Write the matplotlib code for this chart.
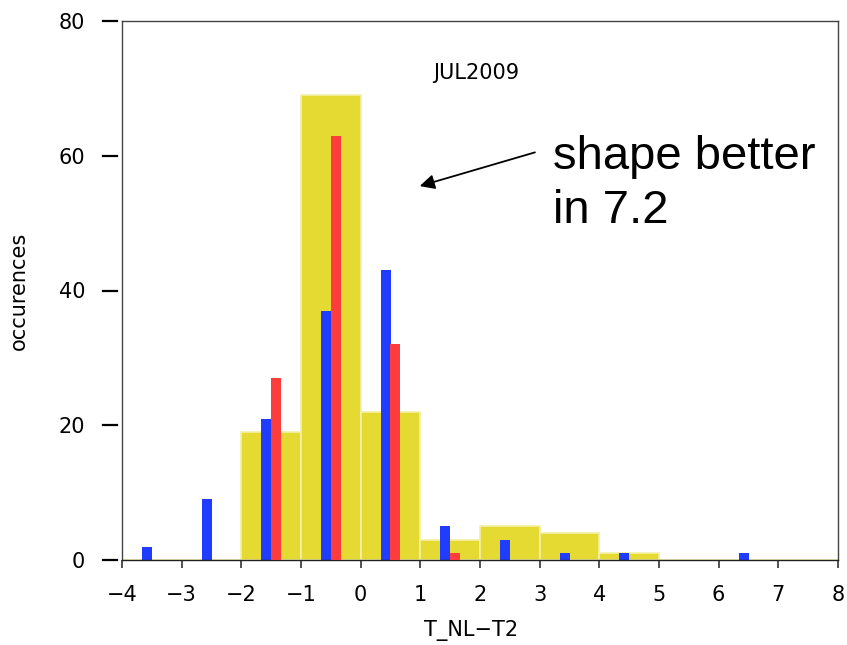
import matplotlib
matplotlib.use("Agg")
import matplotlib.pyplot as plt
import matplotlib.transforms as mtransforms
import numpy as np

# ---- data ----
bin_left = np.arange(-4, 8)                      # bins of width 1 from -4 to 8
yellow_counts = [0, 0, 19, 69, 22, 3, 5, 4, 1, 0, 0, 0]
blue_counts   = [2, 9, 21, 37, 43, 5, 3, 1, 1, 0, 1, 0]
red_counts    = [0, 0, 27, 63, 32, 1, 0, 0, 0, 0, 0, 0]
xticks = list(range(-4, 9))
yticks = [0, 20, 40, 60, 80]
title = "JUL2009"
xlabel = "T_NL\u2212T2"
ylabel = "occurences"
note = "shape better\nin 7.2"

W, H = 847, 645
fig = plt.figure(figsize=(W / 100, H / 100), dpi=100)
ax = fig.add_axes([122 / W, 1 - 560 / H, (838 - 122) / W, (560 - 21) / H])

yellow = "#e4da32"
blue = "#1f3cff"
red = "#fd3c3c"

ax.bar(bin_left + 0.5, yellow_counts, width=1.0, color=yellow,
       edgecolor="#f4f0a8", linewidth=1.2, zorder=1)
ax.bar(bin_left + 0.42, blue_counts, width=0.17, color=blue, zorder=2)
ax.bar(bin_left + 0.58, red_counts, width=0.17, color=red, zorder=3)

ax.set_xlim(-4, 8)
ax.set_ylim(0, 80)

for s in ax.spines.values():
    s.set_color("#444444")
    s.set_linewidth(1.0)
ax.spines["bottom"].set_color("#222222")

tickfont = dict(family="DejaVu Sans", size=15)
ax.set_xticks(xticks)
ax.set_xticklabels([str(t).replace("-", "\u2212") for t in xticks], **tickfont)
ax.tick_params(axis="x", direction="out", length=6, width=1.2, pad=12,
               color="#333333")

ax.set_yticks(yticks)
ax.set_yticklabels([str(t) for t in yticks], **tickfont)
ax.tick_params(axis="y", length=0, pad=26.5)
# detached y tick marks
trans = mtransforms.blended_transform_factory(ax.transAxes, ax.transData)
for yv in yticks:
    ax.plot([-0.0265, -0.007], [yv, yv], color="black", lw=1.6,
            transform=trans, clip_on=False)

ax.set_xlabel(xlabel, family="DejaVu Sans", size=15)
ax.xaxis.set_label_coords((471 - 122) / 716, (560 - 620) / 539)
ax.xaxis.label.set_va("top")
ax.set_ylabel(ylabel, family="DejaVu Sans", size=15)
ax.yaxis.set_label_coords((29 - 122) / 716, 0.5)

ax.text(1.93, 72.3, title, ha="center", va="center", family="DejaVu Sans",
        size=15)

ax.annotate("", xy=(0.99, 55.5), xytext=(2.92, 60.5),
            arrowprops=dict(arrowstyle="-|>", color="black", lw=1.3,
                            mutation_scale=22, shrinkA=0, shrinkB=0))
ax.text(3.22, (560 - 135) / 6.7375, note, ha="left", va="top",
        family="Liberation Sans", size=34, linespacing=1.28)

fig.savefig("out.png", dpi=100)
